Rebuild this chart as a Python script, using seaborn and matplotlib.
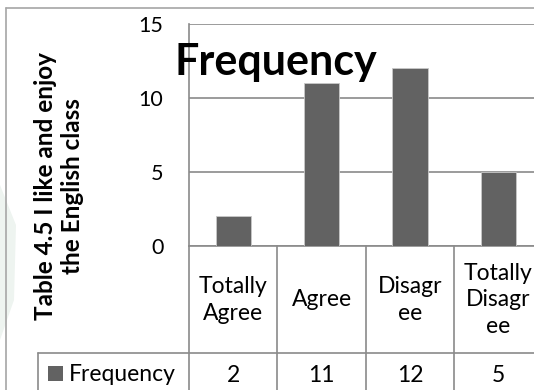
import matplotlib
matplotlib.use("Agg")
import matplotlib.pyplot as plt
import matplotlib.transforms as mtransforms
from matplotlib.patches import Rectangle, Polygon
import seaborn as sns

# Survey responses for "I like and enjoy the English class"
categories = ["Totally Agree", "Agree", "Disagree", "Totally Disagree"]
category_labels = ["Totally\nAgree", "Agree", "Disagr\nee", "Totally\nDisagr\nee"]
frequency = [2, 11, 12, 5]
series_name = "Frequency"
y_ticks = [0, 5, 10, 15]
y_label = "Table 4.5 I like and enjoy\nthe English class"

sns.set_style("white")
plt.rcParams["font.family"] = ["Lato", "DejaVu Sans"]

W, H = 534, 390
fig = plt.figure(figsize=(W / 100, H / 100), dpi=100)
fig.patch.set_facecolor("white")


def fx(px):
    return px / W


def fy(py):
    return 1 - py / H


BAR = "#626262"
GRID = "#8a8a8a"
FRAME = "#a6a6a6"
TXT = 16.5

# faint background mark at the left edge
fig.patches.append(Polygon([[fx(0), fy(185)], [fx(16), fy(225)], [fx(14), fy(300)],
                            [fx(0), fy(340)]], closed=True, transform=fig.transFigure,
                           facecolor="#eef4f0", edgecolor="none", zorder=0))

# outer chart frame
fig.add_artist(plt.Line2D([fx(6), fx(534)], [fy(8), fy(8)], transform=fig.transFigure,
                          color=FRAME, lw=1.2))
fig.add_artist(plt.Line2D([fx(6), fx(6)], [fy(8), fy(390)], transform=fig.transFigure,
                          color=FRAME, lw=1.2))

left_px, right_px, top_px, bottom_px = 189, 542.5, 24, 246
ax = fig.add_axes([fx(left_px), fy(bottom_px), fx(right_px - left_px),
                   (bottom_px - top_px) / H])

sns.barplot(x=categories, y=frequency, color=BAR, saturation=1, width=0.4,
            edgecolor="#c8c8c8", linewidth=0.6, ax=ax, zorder=3)

ax.set_xlim(-0.5, len(categories) - 0.5)
ax.set_ylim(y_ticks[0], y_ticks[-1])
ax.set_yticks(y_ticks)
ax.set_xticks([])
ax.set_xlabel("")
ax.set_ylabel("")
ax.tick_params(axis="y", length=0, pad=18.5, labelsize=15.5, labelcolor="#000000")
ax.yaxis.grid(True, color=GRID, lw=1.2, zorder=0)
ax.set_axisbelow(True)
for name, sp in ax.spines.items():
    sp.set_visible(name in ("left", "bottom"))
    sp.set_color(GRID)
    sp.set_linewidth(1.2)

# chart title
fig.text(fx(276), fy(75), series_name, ha="center", va="baseline",
         fontsize=31, fontweight="bold", color="black")

# rotated axis title
fig.text(fx(59), fy(186), y_label, rotation=90, ha="center", va="center",
         fontsize=17.5, fontweight="bold", color="black", linespacing=1.18,
         multialignment="center")

# data table under the plot area
blend = mtransforms.blended_transform_factory(ax.transData, fig.transFigure)
row_top, row_mid, row_bot = 246, 353, 392
for i in range(len(categories) + 1):
    ax.add_line(plt.Line2D([i - 0.5, i - 0.5], [fy(row_top), fy(row_bot)],
                           transform=blend, color=GRID, lw=1.2, clip_on=False))
fig.add_artist(plt.Line2D([fx(38), fx(534)], [fy(row_mid), fy(row_mid)],
                          transform=fig.transFigure, color=GRID, lw=1.2))
fig.add_artist(plt.Line2D([fx(38), fx(38)], [fy(row_mid), fy(row_bot)],
                          transform=fig.transFigure, color=GRID, lw=1.2))

for i, (lab, val) in enumerate(zip(category_labels, frequency)):
    ax.text(i, fy(300), lab, transform=blend, ha="center", va="center",
            fontsize=TXT, linespacing=1.3, color="black")
    ax.text(i, fy(382), str(val), transform=blend, ha="center", va="baseline",
            fontsize=TXT, color="black")

fig.patches.append(Rectangle((fx(48), fy(381)), fx(15), 15 / H, transform=fig.transFigure,
                             facecolor=BAR, edgecolor="none"))
fig.text(fx(69), fy(381), series_name, ha="left", va="baseline", fontsize=TXT,
         color="black")

fig.savefig("out.png", dpi=100, facecolor="white")
